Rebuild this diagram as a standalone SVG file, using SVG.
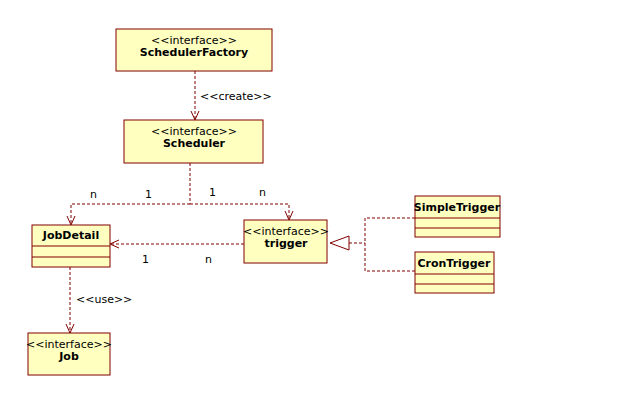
<svg xmlns="http://www.w3.org/2000/svg" width="640" height="400" viewBox="0 0 640 400">
<defs>
<style>
.box{fill:#ffffc0;stroke:#800000;stroke-width:1}
.ln{stroke:#800000;stroke-width:1}
.c{fill:none;stroke:#800000;stroke-width:1;stroke-dasharray:3,2}
text{font-family:Tahoma,"DejaVu Sans",sans-serif;font-size:11px;fill:#000}
.b{font-weight:bold}
</style>
<marker id="op" markerWidth="12" markerHeight="12" refX="10" refY="5" orient="auto" markerUnits="userSpaceOnUse"><path d="M1,1 L10,5 L1,9" fill="none" stroke="#800000"/></marker>
</defs>
<rect width="640" height="400" fill="#fff"/>
<g id="connectors">
<path class="c" d="M195,71 V120" marker-end="url(#op)"/>
<text x="200" y="100">&lt;&lt;create&gt;&gt;</text>
<path class="c" d="M190,163 V204"/>
<path class="c" d="M190,204 H71 V225" marker-end="url(#op)"/>
<path class="c" d="M190,204 H289 V220" marker-end="url(#op)"/>
<text x="90" y="198">n</text><text x="145" y="198">1</text>
<text x="209" y="196">1</text><text x="259" y="196">n</text>
<path class="c" d="M244,244 H110" marker-end="url(#op)"/>
<text x="142" y="263">1</text><text x="205" y="263">n</text>
<path d="M330,243 L349,236 L349,250 Z" fill="#fff" stroke="#800000"/>
<path class="c" d="M349,243 H365 M415,218 H365 V271 H415"/>
<path class="c" d="M70,267 V333" marker-end="url(#op)"/>
<text x="76" y="303">&lt;&lt;use&gt;&gt;</text>
</g>
<g id="SchedulerFactory"><rect class="box" x="116" y="29" width="156" height="42"/>
<text x="194" y="44" text-anchor="middle">&lt;&lt;interface&gt;&gt;</text><text class="b" x="194" y="56" text-anchor="middle">SchedulerFactory</text></g>
<g id="Scheduler"><rect class="box" x="124" y="120" width="139" height="43"/>
<text x="194" y="135" text-anchor="middle">&lt;&lt;interface&gt;&gt;</text><text class="b" x="194" y="147" text-anchor="middle">Scheduler</text></g>
<g id="JobDetail"><rect class="box" x="32" y="225" width="78" height="42"/>
<line class="ln" x1="32" y1="246" x2="110" y2="246"/><line class="ln" x1="32" y1="257" x2="110" y2="257"/>
<text class="b" x="71" y="239" text-anchor="middle">JobDetail</text></g>
<g id="trigger"><rect class="box" x="244" y="220" width="83" height="43"/>
<text x="286" y="235" text-anchor="middle">&lt;&lt;interface&gt;&gt;</text><text class="b" x="286" y="247" text-anchor="middle">trigger</text></g>
<g id="SimpleTrigger"><rect class="box" x="415" y="196" width="85" height="41"/>
<line class="ln" x1="415" y1="218" x2="500" y2="218"/><line class="ln" x1="415" y1="228" x2="500" y2="228"/>
<text class="b" x="457" y="211" text-anchor="middle">SimpleTrigger</text></g>
<g id="CronTrigger"><rect class="box" x="415" y="252" width="79" height="41"/>
<line class="ln" x1="415" y1="274" x2="494" y2="274"/><line class="ln" x1="415" y1="284" x2="494" y2="284"/>
<text class="b" x="454" y="267" text-anchor="middle">CronTrigger</text></g>
<g id="Job"><rect class="box" x="28" y="333" width="82" height="42"/>
<text x="69" y="348" text-anchor="middle">&lt;&lt;interface&gt;&gt;</text><text class="b" x="69" y="360" text-anchor="middle">Job</text></g>
</svg>
